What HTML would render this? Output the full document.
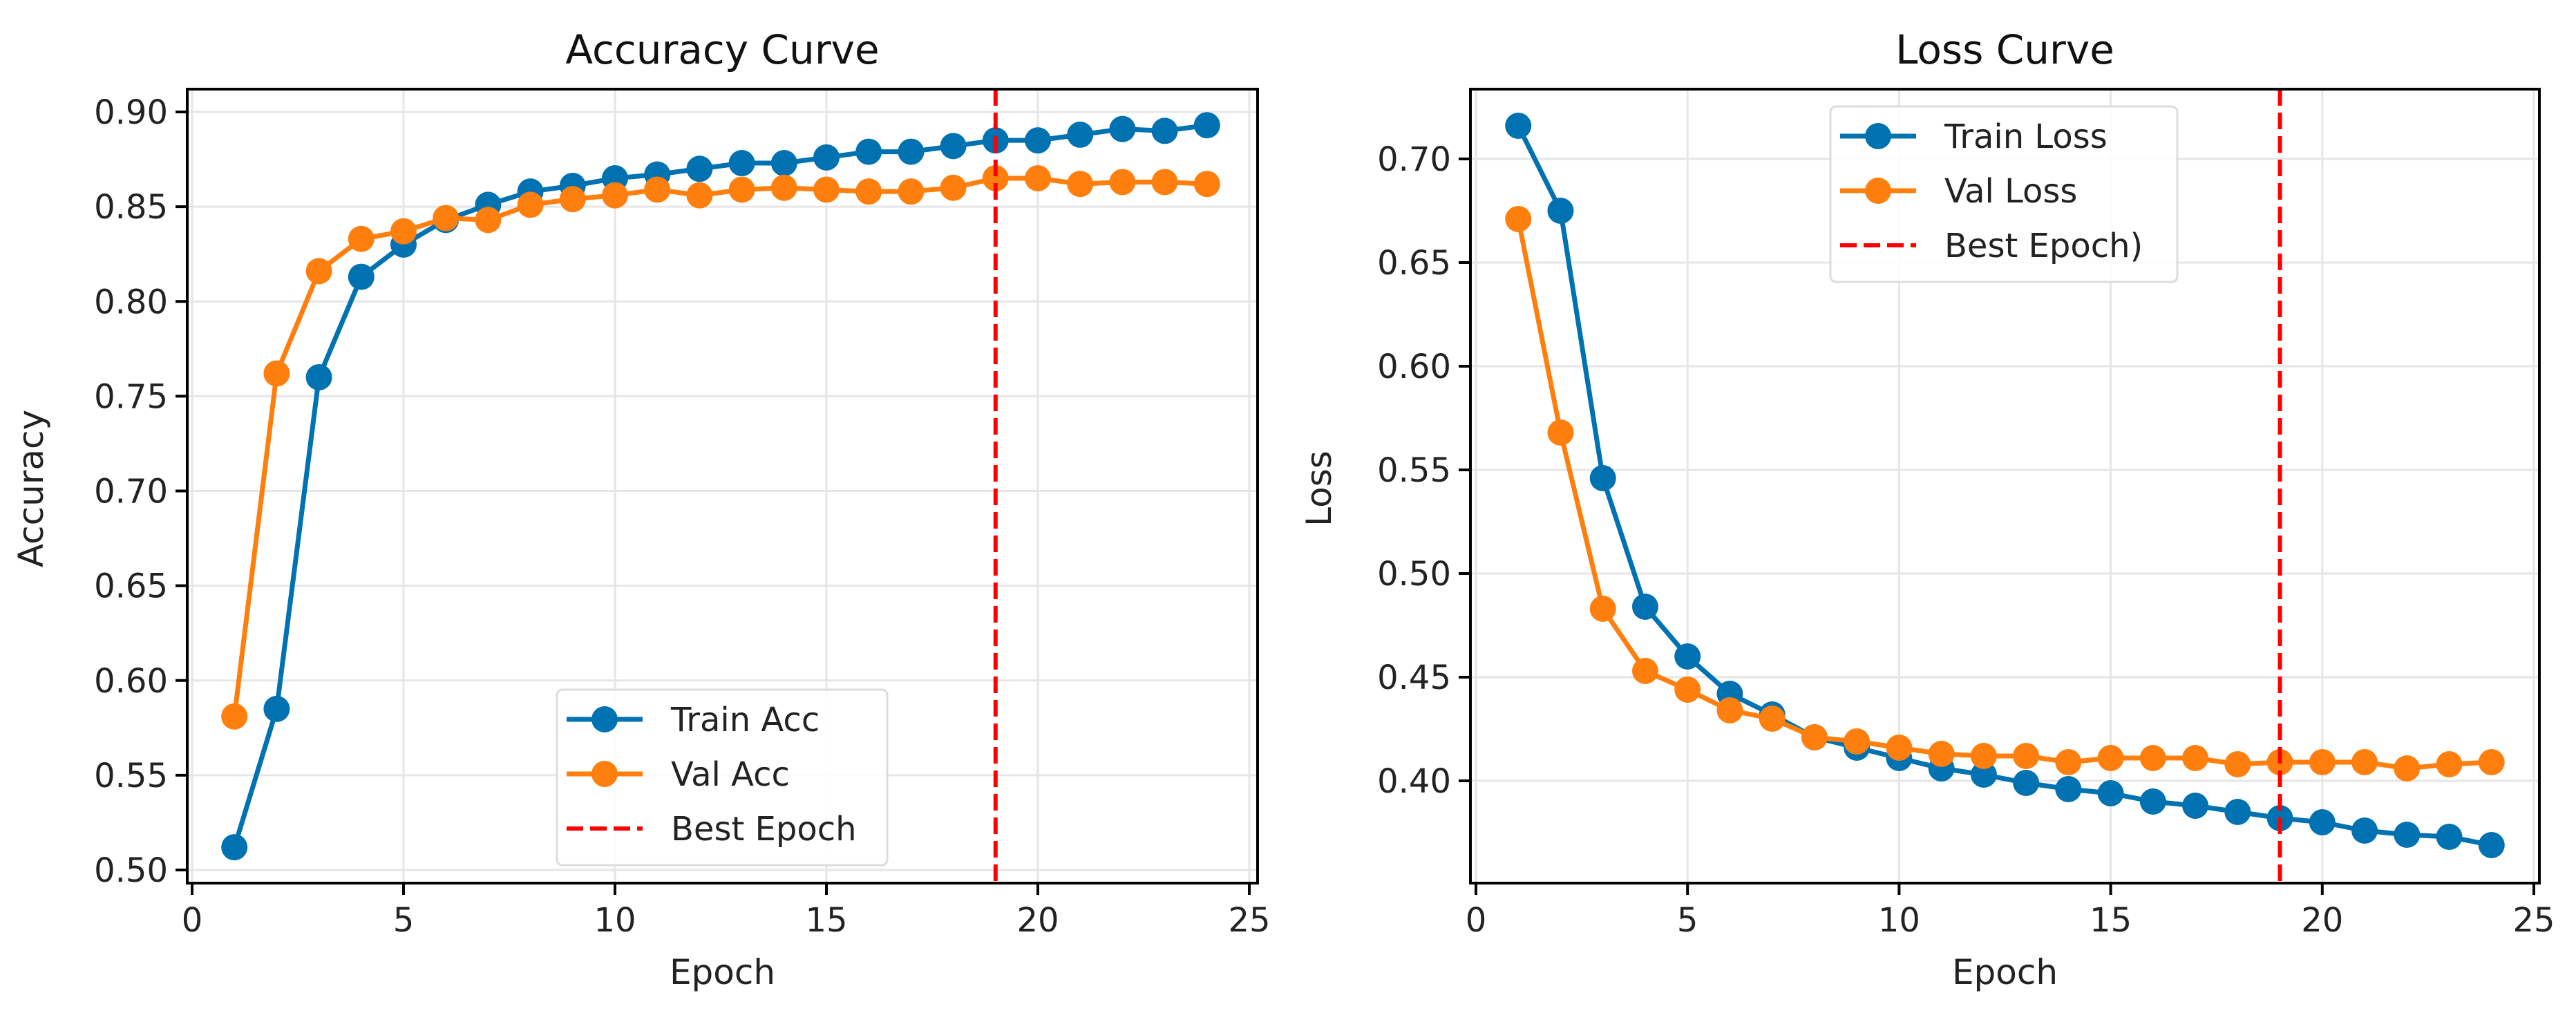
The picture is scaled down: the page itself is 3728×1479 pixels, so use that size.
<!DOCTYPE html>
<html><head><meta charset="utf-8">
<style>
html,body{margin:0;padding:0;background:#fff;}
svg{display:block;font-family:"DejaVu Sans","Liberation Sans",sans-serif;}
</style></head>
<body>
<svg id="fig" width="3728" height="1479" viewBox="0 0 3728 1479" xmlns="http://www.w3.org/2000/svg"></svg>
<script>
const epochs = [1,2,3,4,5,6,7,8,9,10,11,12,13,14,15,16,17,18,19,20,21,22,23,24];
const trainAcc = [0.512,0.585,0.760,0.813,0.830,0.843,0.851,0.858,0.861,0.865,0.867,0.870,0.873,0.873,0.876,0.879,0.879,0.882,0.885,0.885,0.888,0.891,0.890,0.893];
const valAcc = [0.581,0.762,0.816,0.833,0.837,0.844,0.843,0.851,0.854,0.856,0.859,0.856,0.859,0.860,0.859,0.858,0.858,0.860,0.865,0.865,0.862,0.863,0.863,0.862];
const trainLoss = [0.716,0.675,0.546,0.484,0.460,0.442,0.432,0.421,0.416,0.411,0.406,0.403,0.399,0.396,0.394,0.390,0.388,0.385,0.382,0.380,0.376,0.374,0.373,0.369];
const valLoss = [0.671,0.568,0.483,0.453,0.444,0.434,0.430,0.421,0.419,0.416,0.413,0.412,0.412,0.409,0.411,0.411,0.411,0.408,0.409,0.409,0.409,0.406,0.408,0.409];
const bestEpoch = 19;
const xTicks = [0,5,10,15,20,25];
const accTicks = [0.50,0.55,0.60,0.65,0.70,0.75,0.80,0.85,0.90];
const lossTicks = [0.40,0.45,0.50,0.55,0.60,0.65,0.70];

const NS = "http://www.w3.org/2000/svg";
const svg = document.getElementById('fig');
function mk(tag, attrs, parent){
  const e = document.createElementNS(NS, tag);
  for (const k in attrs) e.setAttribute(k, attrs[k]);
  (parent||svg).appendChild(e);
  return e;
}
const BLUE = '#0072b2', ORANGE = '#ff7f0e';

function panel(cfg){
  const g = mk('g', {});
  
  
  const xs = v => cfg.x0 + (v - 0) * (cfg.x25 - cfg.x0) / 25;
  const ys = v => cfg.yA + (v - cfg.vA) * (cfg.yB - cfg.yA) / (cfg.vB - cfg.vA);
  xTicks.forEach(t => {
    const l = mk('line', {x1:xs(t), x2:xs(t), y1:cfg.top, y2:cfg.bottom, stroke:'#e6e6e6', 'stroke-width':3}, g);
    
    
  });
  cfg.yTicks.forEach(t => {
    const l = mk('line', {x1:cfg.left, x2:cfg.right, y1:ys(t), y2:ys(t), stroke:'#e6e6e6', 'stroke-width':3}, g);
    
    
  });
  [[cfg.s1, BLUE, cfg.l1], [cfg.s2, ORANGE, cfg.l2]].forEach(([data, col, lab]) => {
    const sg = mk('g', {}, g);
    
    
    const pts = epochs.map((e,i) => xs(e) + ',' + ys(data[i])).join(' ');
    const pl = mk('polyline', {points:pts, fill:'none', stroke:col, 'stroke-width':7, 'stroke-linejoin':'round'}, sg);
    
    
    epochs.forEach((e,i) => {
      const c = mk('circle', {cx:xs(e), cy:ys(data[i]), r:19, fill:col}, sg);
      
      
    });
  });
  const bl = mk('line', {x1:xs(bestEpoch), x2:xs(bestEpoch), y1:cfg.top, y2:cfg.bottom, stroke:'#ff0000', 'stroke-width':6, 'stroke-dasharray':'24,10'}, g);
  
  
  const fr = mk('rect', {x:cfg.left, y:cfg.top, width:cfg.right-cfg.left, height:cfg.bottom-cfg.top, fill:'none', stroke:'#000', 'stroke-width':4}, g);
  
  
  xTicks.forEach(t => {
    const l = mk('line', {x1:xs(t), x2:xs(t), y1:cfg.bottom, y2:cfg.bottom+17, stroke:'#000', 'stroke-width':4}, g);
    
    
    const tx = mk('text', {x:xs(t), y:1348, 'font-size':48, 'text-anchor':'middle', fill:'#222'}, g);
    tx.textContent = t;
    
    
  });
  cfg.yTicks.forEach(t => {
    const l = mk('line', {x1:cfg.left-17, x2:cfg.left, y1:ys(t), y2:ys(t), stroke:'#000', 'stroke-width':4}, g);
    
    
    const tx = mk('text', {x:cfg.left-28, y:ys(t)+17, 'font-size':48, 'text-anchor':'end', fill:'#222'}, g);
    tx.textContent = t.toFixed(2);
    
    
  });
  const ti = mk('text', {x:(cfg.left+cfg.right)/2, y:92, 'font-size':58, 'text-anchor':'middle', fill:'#111'}, g);
  ti.textContent = cfg.title;
  
  
  const xl = mk('text', {x:(cfg.left+cfg.right)/2, y:1424, 'font-size':50, 'text-anchor':'middle', fill:'#222'}, g);
  xl.textContent = 'Epoch';
  
  
  const yl = mk('text', {x:cfg.ylx, y:707, 'font-size':50, 'text-anchor':'middle', fill:'#222', transform:`rotate(-90 ${cfg.ylx} 707)`}, g);
  yl.textContent = cfg.ylabel;
  
  
  const lg = mk('g', {}, g);
  
  
  const L = cfg.leg;
  mk('rect', {x:L.x, y:L.y, width:L.w, height:L.h, rx:8, fill:'#fff', 'fill-opacity':0.85, stroke:'#dcdcdc', 'stroke-width':3}, lg);
  [[cfg.l1, BLUE, false],[cfg.l2, ORANGE, false],[cfg.l3, '#ff0000', true]].forEach(([lab,col,dash],i) => {
    const ey = L.y + 43 + i*79;
    const eg = mk('g', {}, lg);
    
    
    const a = {x1:L.x+14, x2:L.x+124, y1:ey, y2:ey, stroke:col, 'stroke-width':dash?6:7};
    if (dash) a['stroke-dasharray'] = '24,10';
    mk('line', a, eg);
    if (!dash) mk('circle', {cx:L.x+69, cy:ey, r:19, fill:col}, eg);
    const t = mk('text', {x:L.x+165, y:ey+17, 'font-size':48, fill:'#222'}, eg);
    t.textContent = lab;
  });
}

panel({name:'accuracy-chart', left:271, right:1820, top:129, bottom:1278, x0:278, x25:1808,
  vA:0.90, yA:162, vB:0.50, yB:1259, yTicks:accTicks, s1:trainAcc, s2:valAcc,
  l1:'Train Acc', l2:'Val Acc', l3:'Best Epoch', title:'Accuracy Curve', ylabel:'Accuracy', ylx:62,
  leg:{x:806, y:998, w:478, h:254}});
panel({name:'loss-chart', left:2128, right:3675, top:129, bottom:1278, x0:2136, x25:3667,
  vA:0.70, yA:230, vB:0.40, yB:1130, yTicks:lossTicks, s1:trainLoss, s2:valLoss,
  l1:'Train Loss', l2:'Val Loss', l3:'Best Epoch)', title:'Loss Curve', ylabel:'Loss', ylx:1926,
  leg:{x:2649, y:154, w:502, h:254}});
</script>
</body></html>
